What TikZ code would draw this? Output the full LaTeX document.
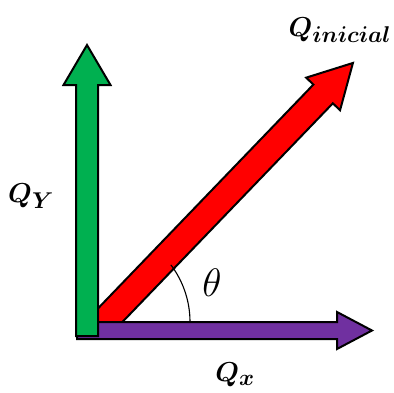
\documentclass[tikz,border=0pt]{standalone}
\usepackage{amsmath}
\usepackage{bm}
\definecolor{vgreen}{HTML}{00B050}
\definecolor{vred}{HTML}{FF0000}
\definecolor{vpurple}{HTML}{7030A0}
\tikzset{
  arrowshape/.style={draw=black, line width=2pt, line join=miter},
  lbl/.style={inner sep=0pt, font=\Huge, scale=1.1},
}
\begin{document}
\begin{tikzpicture}[x=1pt,y=1pt]
\useasboundingbox (0,0) rectangle (394,392);
% red (initial) arrow, its lower end hidden behind the other two
\begin{scope}
  \clip (88,62) rectangle (394,392);
  \begin{scope}[shift={(95,61)}, rotate=46.1]
    \path[arrowshape, fill=vred] (-10,-13.5) -- (329,-13.5) -- (329,-23.5) -- (372,0) -- (329,23.5) -- (329,13.5) -- (-10,13.5) -- cycle;
  \end{scope}
\end{scope}
% purple (x) arrow
\path[arrowshape, fill=vpurple] (77,53) -- (337,53) -- (337,43) -- (372,61.5) -- (337,80) -- (337,70) -- (77,70) -- cycle;
% green (y) arrow
\path[arrowshape, fill=vgreen] (76,56) -- (98,56) -- (98,307) -- (110.5,307) -- (87,347) -- (63.5,307) -- (76,307) -- cycle;
% angle arc
\coordinate (o) at (95,70);
\draw[line width=1.1pt] ([shift={(0:95)}]o) arc[start angle=0, end angle=37, radius=95];
\node[lbl, scale=1.45] (theta) at (212,109) {$\theta$};
\node[lbl] (qi) at (340,362) {$\bm{Q_{inicial}}$};
\node[lbl] (qy) at (31,196) {$\bm{Q_{Y}}$};
\node[lbl] (qx) at (235,17) {$\bm{Q_{x}}$};
\end{tikzpicture}
\end{document}
